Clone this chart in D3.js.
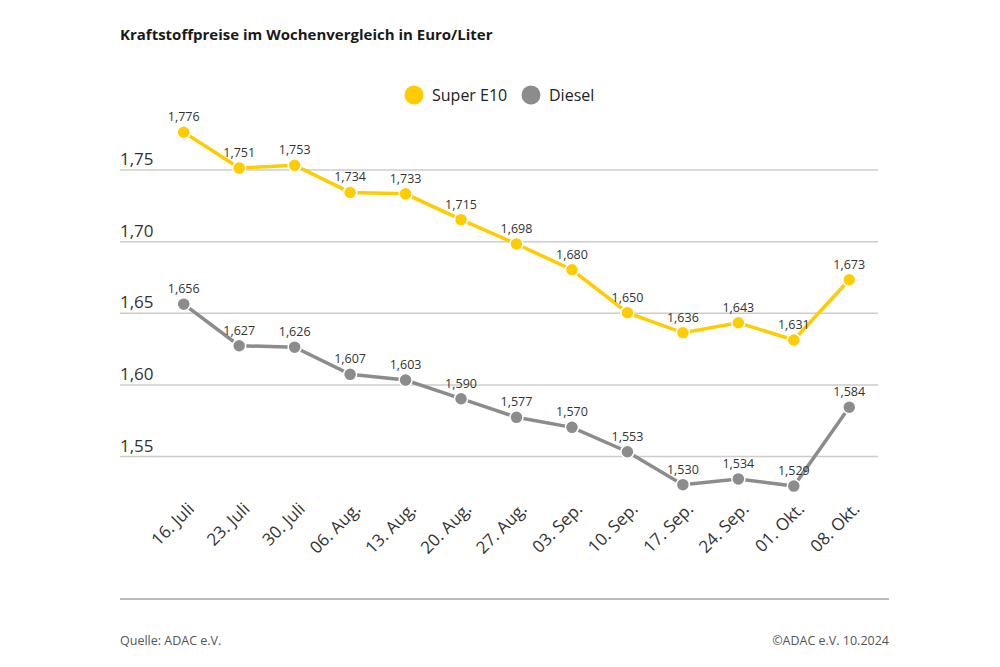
<!DOCTYPE html>
<html><head><meta charset="utf-8">
<script src="https://cdn.jsdelivr.net/npm/d3@7"></script>
<style>body{margin:0;background:#fff}svg{display:block}</style>
</head><body>
<script>
const categories = ["16. Juli","23. Juli","30. Juli","06. Aug.","13. Aug.","20. Aug.","27. Aug.","03. Sep.","10. Sep.","17. Sep.","24. Sep.","01. Okt.","08. Okt."];
const superE10 = [1.776,1.751,1.753,1.734,1.733,1.715,1.698,1.680,1.650,1.636,1.643,1.631,1.673];
const diesel = [1.656,1.627,1.626,1.607,1.603,1.590,1.577,1.570,1.553,1.530,1.534,1.529,1.584];
const yTicks = [1.55,1.60,1.65,1.70,1.75];
const seriesNames = ["Super E10","Diesel"];
const colors = ["#FFCC00","#8C8C8C"];

const W=1000,H=667;
const svg=d3.select("body").append("svg").attr("width",W).attr("height",H);
const font="'Open Sans', sans-serif";
const fmt=v=>d3.format(".3f")(v).replace(".",",");
const fmt2=v=>d3.format(".2f")(v).replace(".",",");

const x=d3.scalePoint().domain(categories).range([156,877]).padding(0.5);
const y=d3.scaleLinear().domain([1.55,1.75]).range([456,169.5]);

svg.append("text").attr("x",120).attr("y",40).attr("font-family",font).attr("font-weight","bold")
  .attr("font-size",15).attr("fill","#1a1a1a").text("Kraftstoffpreise im Wochenvergleich in Euro/Liter");

// legend
const lg=svg.append("g");
const lx=[414,531];
seriesNames.forEach((n,i)=>{
  lg.append("circle").attr("cx",lx[i]).attr("cy",95).attr("r",9.5).attr("fill",colors[i]);
  lg.append("text").attr("x",lx[i]+18).attr("y",101).attr("font-family",font).attr("font-size",16).attr("fill","#222").text(n);
});

// grid
const yAxis=d3.axisLeft(y).tickValues(yTicks).tickSize(-(878-120)).tickFormat(fmt2);
const ga=svg.append("g").attr("transform","translate(120,0)").call(yAxis);
ga.select(".domain").remove();
ga.selectAll(".tick line").attr("stroke","#cccccc").attr("stroke-width",1.5);
ga.selectAll(".tick text").attr("x",0).attr("dy",-5).attr("text-anchor","start")
  .attr("font-family",font).attr("font-size",17).attr("fill","#333");

// x axis labels
const xAxis=d3.axisBottom(x).tickSize(0);
const gx=svg.append("g").attr("transform","translate(0,492)").call(xAxis);
gx.select(".domain").remove();
gx.selectAll(".tick text").attr("font-family",font).attr("font-size",17).attr("fill","#333")
  .attr("text-anchor","end").attr("dy",0).attr("y",0)
  .attr("transform","translate(11,18) rotate(-45)");

// series
const data=[superE10,diesel];
data.forEach((vals,i)=>{
  const line=d3.line().x((d,j)=>x(categories[j])).y(d=>y(d));
  svg.append("path").datum(vals).attr("d",line).attr("fill","none").attr("stroke",colors[i]).attr("stroke-width",3.5);
  svg.selectAll(null).data(vals).join("circle").attr("cx",(d,j)=>x(categories[j])).attr("cy",d=>y(d))
    .attr("r",6.5).attr("fill",colors[i]).attr("stroke","#fff").attr("stroke-width",1.5);
  svg.selectAll(null).data(vals).join("text").attr("x",(d,j)=>x(categories[j])).attr("y",d=>y(d)-11)
    .attr("text-anchor","middle").attr("font-family",font).attr("font-size",12.5).attr("fill","#333").text(fmt);
});

// footer
svg.append("line").attr("x1",120).attr("x2",889).attr("y1",599).attr("y2",599).attr("stroke","#bbbbbb").attr("stroke-width",2);
const ff="'Liberation Sans Narrow','Open Sans',sans-serif";
svg.append("text").attr("x",120).attr("y",645).attr("font-family",ff).attr("font-size",12.5).attr("fill","#555").text("Quelle: ADAC e.V.");
svg.append("text").attr("x",889).attr("y",645).attr("text-anchor","end").attr("font-family",ff).attr("font-size",12.5).attr("fill","#555").text("©ADAC e.V. 10.2024");
</script>
</body></html>
